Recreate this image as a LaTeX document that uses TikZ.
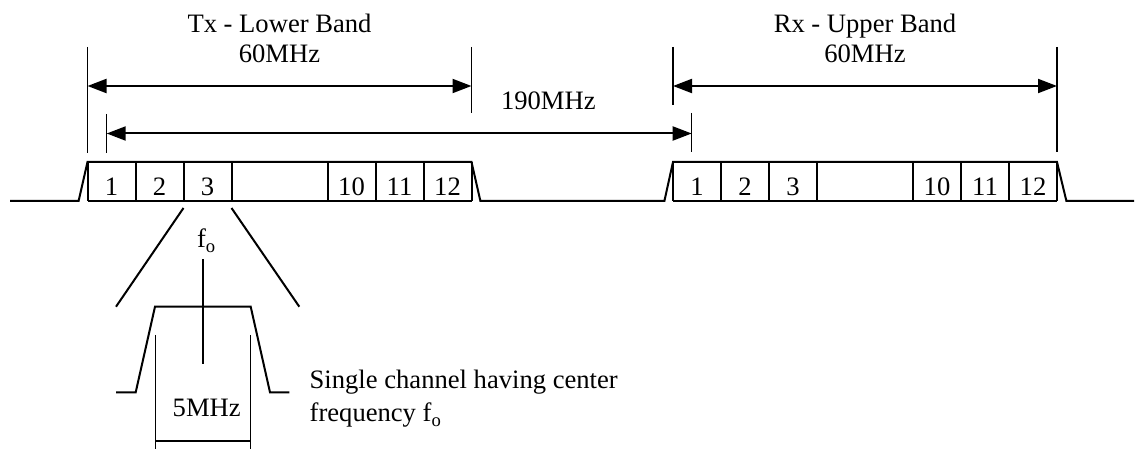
\documentclass[tikz,border=0pt]{standalone}
\usepackage{fontspec}
\setmainfont{Liberation Serif}
\usetikzlibrary{arrows.meta}
\begin{document}
\begin{tikzpicture}[x=0.5pt,y=-0.5pt,
  band/.style={line width=1pt,line join=miter},
  ext/.style={line width=0.8pt},
  thinext/.style={line width=0.5pt},
  dimarrow/.style={line width=1pt,{Triangle[length=9.5pt,width=7pt]}-{Triangle[length=9.5pt,width=7pt]}},
  onearrow/.style={line width=1pt,-{Triangle[length=9.5pt,width=7pt]}},
  lbl/.style={font=\fontsize{13.3}{16}\selectfont,inner sep=0pt,anchor=base},
  ]
\useasboundingbox (0,0) rectangle (1137,449);

% ---- spectrum baseline with the two bands
\draw[band] (10,201) -- (78.6,201) -- (87.5,162) -- (471.5,162) -- (480.4,201)
  -- (664.4,201) -- (673,162) -- (1057,162) -- (1066.4,201) -- (1134,201);
\draw[band] (87.5,201) -- (471.5,201);
\draw[band] (673,201) -- (1057,201);
\foreach \x in {87.5,135.5,183.5,231.5,327.5,375.5,423.5,471.5}
  \draw[band] (\x,162) -- (\x,201);
\foreach \x in {673,721,769,817,913,961,1009,1057}
  \draw[band] (\x,162) -- (\x,201);

% channel numbers
\foreach \x/\t [count=\i] in {111.5/1,159.5/2,207.5/3,351.5/10,399.5/11,447.5/12}
  \node[lbl] (tx\i) at (\x,195.5) {\t};
\foreach \x/\t [count=\i] in {697/1,745/2,793/3,937/10,985/11,1033/12}
  \node[lbl] (rx\i) at (\x,195.5) {\t};

% ---- Tx dimension
\coordinate (txL) at (87.5,86);
\coordinate (txR) at (471.5,86);
\draw[ext] (87.5,47) -- (87.5,153);
\draw[ext] (471.5,47) -- (471.5,113);
\draw[dimarrow] (txL) -- (txR);
\node[lbl] (txt1) at (279.5,33) {Tx - Lower Band};
\node[lbl] (txt2) at (279.5,63) {60MHz};

% ---- Rx dimension
\coordinate (rxL) at (673,86);
\coordinate (rxR) at (1057,86);
\draw[ext] (673,47) -- (673,105);
\draw[ext] (1057,47) -- (1057,152);
\draw[dimarrow] (rxL) -- (rxR);
\node[lbl] (rxt1) at (865,33) {Rx - Upper Band};
\node[lbl] (rxt2) at (865,63) {60MHz};

% ---- 190 MHz spacing
\coordinate (sL) at (106.7,133.5);
\coordinate (sR) at (691.7,133.5);
\draw[thinext] (106.7,114) -- (106.7,153);
\draw[thinext] (691.7,113) -- (691.7,152);
\draw[dimarrow] (sL) -- (sR);
\node[lbl] (sp) at (548.3,110) {190MHz};

% ---- zoomed single channel
\coordinate (fanL0) at (183.5,208);
\coordinate (fanL1) at (116,306.7);
\coordinate (fanR0) at (231.5,208);
\coordinate (fanR1) at (299.3,306.7);
\draw[band] (fanL0) -- (fanL1);
\draw[band] (fanR0) -- (fanR1);
\node[lbl] (fo) at (206.7,247.7) {f\textsubscript{o}};
\draw[band] (202.7,259.3) -- (202.7,364);
\draw[band] (116,392.3) -- (135.7,392.3) -- (155,306.7) -- (250.7,306.7)
  -- (270,392.3) -- (289.3,392.3);
\coordinate (wL) at (155,441);
\coordinate (wR) at (250.7,441);
\draw[thinext] (155,335) -- (155,449);
\draw[thinext] (250.7,335) -- (250.7,449);
\draw[band] (wL) -- (wR);
\node[lbl] (bw) at (206.7,416.7) {5MHz};
\node[lbl,anchor=base west] (desc1) at (309.3,388.3) {Single channel having center};
\node[lbl,anchor=base west] (desc2) at (309.3,421.7) {frequency f\textsubscript{o}};
\end{tikzpicture}
\end{document}
